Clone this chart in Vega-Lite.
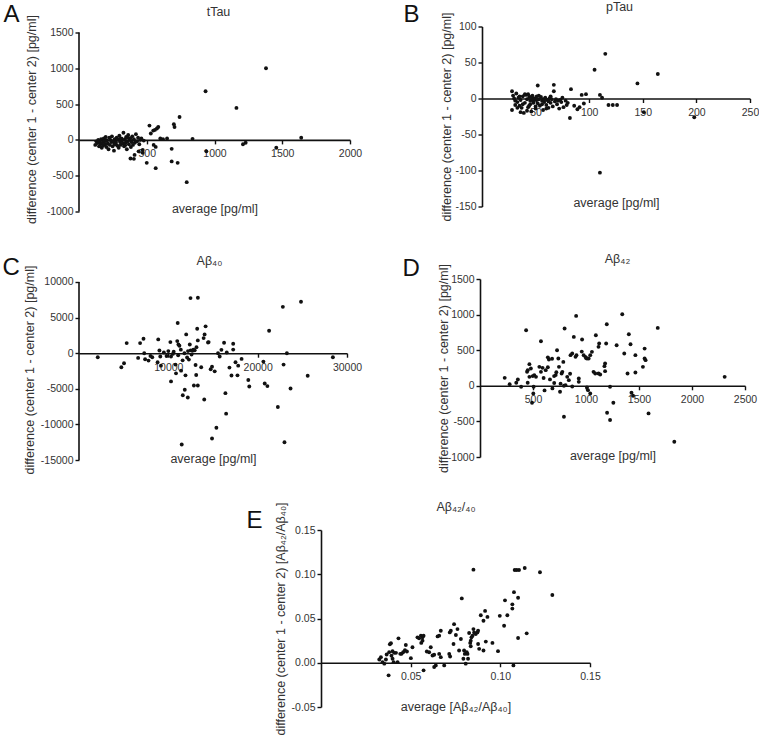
{
"$schema": "https://vega.github.io/schema/vega-lite/v6.json",
"background": "white",
"padding": {"left": 2, "top": -0.5, "right": 0, "bottom": 0},
"config": {
  "font": "Liberation Sans",
  "view": {"stroke": null},
  "axis": {"grid": false, "domainColor": "#111", "domainWidth": 1.6, "tickColor": "#111", "tickWidth": 1.4, "tickSize": 4, "labelFontSize": 10.5, "labelColor": "#333", "labelFlush": false, "labelOverlap": false, "titleFontSize": 12.5, "titleFontWeight": "normal", "titleColor": "#333"},
  "axisX": {"labelPadding": 5, "titleBaseline": "alphabetic"},
  "axisY": {"labelPadding": 2, "titleBaseline": "middle"},
  "circle": {"size": 15, "color": "#111", "opacity": 1},
  "rule": {"color": "#111", "strokeWidth": 1.6}
},
"datasets": {
"A": [
{"average":120,"difference":-70},{"average":128,"difference":-20},{"average":135,"difference":-45},{"average":142,"difference":0},{"average":148,"difference":-90},{"average":152,"difference":-30},{"average":158,"difference":-60},{"average":163,"difference":10},{"average":168,"difference":-110},{"average":172,"difference":-40},{"average":178,"difference":-80},{"average":183,"difference":20},{"average":188,"difference":-20},{"average":192,"difference":-60},{"average":197,"difference":40},{"average":202,"difference":-100},{"average":207,"difference":-10},{"average":212,"difference":-50},{"average":218,"difference":-130},{"average":223,"difference":30},{"average":228,"difference":-70},{"average":233,"difference":0},{"average":238,"difference":-30},{"average":243,"difference":50},{"average":248,"difference":-90},{"average":252,"difference":-20},{"average":258,"difference":-150},{"average":263,"difference":10},{"average":268,"difference":-60},{"average":273,"difference":-40},{"average":278,"difference":30},{"average":283,"difference":-80},{"average":288,"difference":0},{"average":293,"difference":-110},{"average":298,"difference":60},{"average":303,"difference":-30},{"average":308,"difference":-70},{"average":313,"difference":20},{"average":318,"difference":-10},{"average":323,"difference":-50},{"average":328,"difference":100},{"average":333,"difference":-90},{"average":338,"difference":10},{"average":343,"difference":-40},{"average":348,"difference":40},{"average":353,"difference":-130},{"average":358,"difference":-20},{"average":363,"difference":70},{"average":368,"difference":-60},{"average":373,"difference":0},{"average":378,"difference":20},{"average":383,"difference":-100},{"average":388,"difference":-30},{"average":393,"difference":50},{"average":398,"difference":-70},{"average":405,"difference":10},{"average":412,"difference":-40},{"average":420,"difference":80},{"average":428,"difference":-20},{"average":436,"difference":30},{"average":445,"difference":-60},{"average":452,"difference":0},{"average":460,"difference":20},{"average":470,"difference":-140},{"average":478,"difference":-10},{"average":380,"difference":-260},{"average":405,"difference":-265},{"average":410,"difference":-210},{"average":440,"difference":-160},{"average":470,"difference":-180},{"average":200,"difference":-5},{"average":260,"difference":-55},{"average":300,"difference":15},{"average":340,"difference":-75},{"average":360,"difference":35},
{"average":520,"difference":200},{"average":530,"difference":90},{"average":548,"difference":130},{"average":560,"difference":140},{"average":575,"difference":160},{"average":585,"difference":180},{"average":600,"difference":20},{"average":620,"difference":10},{"average":650,"difference":20},{"average":551,"difference":-70},{"average":566,"difference":-98},{"average":500,"difference":-320},{"average":566,"difference":-395},{"average":684,"difference":-125},{"average":684,"difference":-300},{"average":728,"difference":-320},{"average":795,"difference":-590},{"average":700,"difference":220},{"average":705,"difference":180},{"average":742,"difference":320},{"average":838,"difference":15},{"average":934,"difference":680},{"average":940,"difference":-160},{"average":1162,"difference":447},{"average":1210,"difference":-60},{"average":1230,"difference":-40},{"average":1380,"difference":1000},{"average":1456,"difference":-110},{"average":1640,"difference":30}
],
"B": [
{"average":28,"difference":10},{"average":28,"difference":-16},{"average":29,"difference":4},{"average":30,"difference":0},{"average":31,"difference":-3},{"average":32,"difference":7},{"average":33,"difference":-5},{"average":34,"difference":1},{"average":35,"difference":-10},{"average":36,"difference":-2},{"average":37,"difference":-13},{"average":38,"difference":3},{"average":39,"difference":-20},{"average":40,"difference":-6},{"average":41,"difference":5},{"average":42,"difference":-1},{"average":43,"difference":-12},{"average":44,"difference":2},{"average":45,"difference":-8},{"average":46,"difference":-18},{"average":47,"difference":4},{"average":48,"difference":-4},{"average":49,"difference":0},{"average":50,"difference":-14},{"average":51,"difference":3},{"average":52,"difference":-7},{"average":53,"difference":-1},{"average":54,"difference":-10},{"average":55,"difference":2},{"average":56,"difference":-3},{"average":57,"difference":-16},{"average":58,"difference":-5},{"average":59,"difference":1},{"average":60,"difference":-9},{"average":61,"difference":-2},{"average":62,"difference":-13},{"average":63,"difference":0},{"average":64,"difference":-6},{"average":65,"difference":-1},{"average":66,"difference":-11},{"average":67,"difference":10},{"average":68,"difference":-4},{"average":69,"difference":-1},{"average":70,"difference":-8},{"average":71,"difference":-3},{"average":72,"difference":-14},{"average":73,"difference":-2},{"average":74,"difference":-5},{"average":76,"difference":-12},{"average":78,"difference":-3},{"average":80,"difference":-6},{"average":83,"difference":13},{"average":82,"difference":-27},{"average":86,"difference":-10},{"average":89,"difference":-15},{"average":91,"difference":-12},{"average":93,"difference":5},{"average":95,"difference":-7},{"average":40,"difference":6},{"average":42,"difference":-17},{"average":45,"difference":-3},{"average":47,"difference":0},{"average":50,"difference":-11},{"average":53,"difference":4},{"average":56,"difference":-8},{"average":60,"difference":-14},{"average":64,"difference":3},{"average":67,"difference":19},{"average":52,"difference":18},{"average":36,"difference":-19},{"average":33,"difference":-13},{"average":38,"difference":-8},{"average":31,"difference":-9},{"average":35,"difference":3},{"average":43,"difference":6},{"average":48,"difference":-6},{"average":51,"difference":-2},{"average":57,"difference":-1},{"average":62,"difference":-4},{"average":44,"difference":-10},{"average":46,"difference":2},{"average":58,"difference":-2},{"average":75,"difference":1},{"average":79,"difference":-9},
{"average":97,"difference":6},{"average":105,"difference":40},{"average":110,"difference":5},{"average":110,"difference":-103},{"average":112,"difference":1},{"average":115,"difference":62},{"average":118,"difference":-9},{"average":122,"difference":-9},{"average":126,"difference":-9},{"average":145,"difference":21},{"average":151,"difference":-19},{"average":164,"difference":34},{"average":198,"difference":-26}
],
"C": [
{"average":2100,"difference":-570},{"average":4740,"difference":-1980},{"average":5040,"difference":-1420},{"average":5340,"difference":1420},{"average":6620,"difference":-660},{"average":6840,"difference":1420},{"average":7220,"difference":2030},{"average":7300,"difference":0},{"average":7400,"difference":-850},{"average":7780,"difference":-1040},{"average":8000,"difference":-380},{"average":8200,"difference":-570},{"average":8800,"difference":-1270},{"average":8870,"difference":1940},{"average":9000,"difference":380},{"average":9100,"difference":-470},{"average":9170,"difference":-1750},{"average":10230,"difference":1560},{"average":10300,"difference":-3960},{"average":10300,"difference":-470},{"average":10860,"difference":-2830},{"average":11050,"difference":4250},{"average":11130,"difference":1230},{"average":11240,"difference":1040},{"average":11430,"difference":-2450},{"average":11500,"difference":-12830},{"average":11620,"difference":-5900},{"average":11840,"difference":-5140},{"average":11920,"difference":-3110},{"average":12000,"difference":2640},{"average":12180,"difference":-6230},{"average":12480,"difference":7740},{"average":12400,"difference":1230},{"average":12500,"difference":400},{"average":12700,"difference":350},{"average":12950,"difference":420},{"average":12860,"difference":-4530},{"average":13050,"difference":-1650},{"average":13120,"difference":-3070},{"average":13150,"difference":850},{"average":13300,"difference":1800},{"average":13310,"difference":7790},{"average":13230,"difference":3440},{"average":13300,"difference":-4530},{"average":13680,"difference":-1980},{"average":13950,"difference":2120},{"average":14060,"difference":2640},{"average":14170,"difference":3770},{"average":14440,"difference":1510},{"average":14510,"difference":1560},{"average":14740,"difference":-2260},{"average":14890,"difference":-1890},{"average":14020,"difference":-6510},{"average":14890,"difference":-11980},{"average":15190,"difference":-2550},{"average":15380,"difference":-10470},{"average":15560,"difference":0},{"average":15750,"difference":-470},{"average":15940,"difference":470},{"average":16240,"difference":1470},{"average":16390,"difference":-5610},{"average":16470,"difference":-8490},{"average":16540,"difference":100},{"average":16840,"difference":-2020},{"average":17070,"difference":-3130},{"average":17260,"difference":1320},{"average":17260,"difference":510},{"average":17520,"difference":-1270},{"average":17820,"difference":-1750},{"average":17740,"difference":-3110},{"average":18200,"difference":-800},{"average":18950,"difference":-3770},{"average":19060,"difference":-4670},{"average":20640,"difference":-1180},{"average":20790,"difference":-4250},{"average":21090,"difference":-4620},{"average":21280,"difference":3160},{"average":22260,"difference":-7550},{"average":22820,"difference":6510},{"average":22900,"difference":-1600},{"average":23000,"difference":-12500},{"average":23270,"difference":0},{"average":23680,"difference":-4950},{"average":24850,"difference":7220},{"average":25600,"difference":-3160},{"average":28420,"difference":-570},
{"average":11800,"difference":0},{"average":12200,"difference":300},{"average":12600,"difference":-200},{"average":10600,"difference":200},{"average":11100,"difference":-300},{"average":11600,"difference":-1000},{"average":12300,"difference":-900},{"average":9800,"difference":-400},{"average":10800,"difference":-1600},{"average":10000,"difference":300},{"average":10500,"difference":-100},{"average":11400,"difference":500},{"average":12100,"difference":-600},{"average":9500,"difference":100},{"average":11000,"difference":1700},{"average":12800,"difference":500}
],
"D": [
{"average":233,"difference":112},{"average":280,"difference":23},{"average":342,"difference":42},{"average":357,"difference":89},{"average":388,"difference":-14},{"average":435,"difference":780},{"average":444,"difference":196},{"average":450,"difference":220},{"average":466,"difference":304},{"average":480,"difference":243},{"average":466,"difference":126},{"average":450,"difference":42},{"average":497,"difference":136},{"average":506,"difference":-14},{"average":503,"difference":-107},{"average":512,"difference":150},{"average":528,"difference":126},{"average":560,"difference":266},{"average":575,"difference":626},{"average":491,"difference":-238},{"average":575,"difference":196},{"average":590,"difference":252},{"average":609,"difference":-65},{"average":620,"difference":220},{"average":650,"difference":370},{"average":640,"difference":400},{"average":683,"difference":-37},{"average":699,"difference":136},{"average":714,"difference":150},{"average":727,"difference":500},{"average":745,"difference":266},{"average":739,"difference":383},{"average":755,"difference":-84},{"average":770,"difference":173},{"average":777,"difference":196},{"average":786,"difference":336},{"average":792,"difference":0},{"average":798,"difference":804},{"average":792,"difference":-435},{"average":807,"difference":9},{"average":823,"difference":126},{"average":838,"difference":79},{"average":854,"difference":430},{"average":870,"difference":453},{"average":885,"difference":687},{"average":901,"difference":407},{"average":910,"difference":430},{"average":907,"difference":982},{"average":932,"difference":56},{"average":932,"difference":103},{"average":963,"difference":650},{"average":978,"difference":430},{"average":994,"difference":407},{"average":1009,"difference":383},{"average":1009,"difference":-23},{"average":1019,"difference":-61},{"average":1025,"difference":383},{"average":1040,"difference":430},{"average":1040,"difference":-107},{"average":1056,"difference":477},{"average":1071,"difference":196},{"average":1087,"difference":173},{"average":1093,"difference":710},{"average":1118,"difference":547},{"average":1124,"difference":594},{"average":1118,"difference":173},{"average":1134,"difference":159},{"average":1180,"difference":313},{"average":1174,"difference":276},{"average":1180,"difference":206},{"average":1190,"difference":594},{"average":1196,"difference":864},{"average":1199,"difference":-379},{"average":1227,"difference":-14},{"average":1227,"difference":-481},{"average":1258,"difference":-238},{"average":1289,"difference":570},{"average":1342,"difference":1005},{"average":1361,"difference":453},{"average":1392,"difference":173},{"average":1404,"difference":724},{"average":1420,"difference":584},{"average":1429,"difference":-98},{"average":1444,"difference":-140},{"average":1466,"difference":430},{"average":1466,"difference":187},{"average":1537,"difference":266},{"average":1553,"difference":523},{"average":1553,"difference":383},{"average":1562,"difference":360},{"average":1590,"difference":-388},{"average":1677,"difference":813},{"average":1833,"difference":-785},{"average":2308,"difference":126},
{"average":600,"difference":110},{"average":640,"difference":260},{"average":660,"difference":90},{"average":680,"difference":380},{"average":700,"difference":40},{"average":720,"difference":190},{"average":760,"difference":30},{"average":850,"difference":170},{"average":870,"difference":-10},{"average":960,"difference":480},{"average":1000,"difference":390}
],
"E": [
{"average":0.0325,"difference":0.0037},{"average":0.0334,"difference":0.0063},{"average":0.0343,"difference":0.0007},{"average":0.0353,"difference":-0.001},{"average":0.0362,"difference":0.0037},{"average":0.0366,"difference":0.0093},{"average":0.0377,"difference":-0.0142},{"average":0.038,"difference":0.012},{"average":0.0384,"difference":0.0209},{"average":0.039,"difference":0.022},{"average":0.0393,"difference":0.008},{"average":0.0399,"difference":0.0045},{"average":0.0399,"difference":0.013},{"average":0.0405,"difference":0.0007},{"average":0.0408,"difference":0.0112},{"average":0.0418,"difference":0.0112},{"average":0.0427,"difference":0.0007},{"average":0.0432,"difference":0.0276},{"average":0.0442,"difference":0.0101},{"average":0.0449,"difference":0.0101},{"average":0.0458,"difference":0.0119},{"average":0.0468,"difference":0.0142},{"average":0.0473,"difference":0.0201},{"average":0.0479,"difference":0.0127},{"average":0.0501,"difference":0.0052},{"average":0.051,"difference":0.0175},{"average":0.0538,"difference":0.0287},{"average":0.0547,"difference":0.0276},{"average":0.0557,"difference":0.0306},{"average":0.0566,"difference":0.0287},{"average":0.0572,"difference":0.0306},{"average":0.0559,"difference":0.0224},{"average":0.0566,"difference":0.025},{"average":0.0572,"difference":-0.0086},{"average":0.059,"difference":0.0127},{"average":0.0603,"difference":0.0119},{"average":0.0612,"difference":0.0175},{"average":0.0622,"difference":0.0082},{"average":0.0631,"difference":0.009},{"average":0.0631,"difference":-0.0048},{"average":0.064,"difference":-0.003},{"average":0.065,"difference":0.0298},{"average":0.0659,"difference":0.0306},{"average":0.0668,"difference":0.0362},{"average":0.0659,"difference":0.01},{"average":0.0668,"difference":0.0063},{"average":0.0687,"difference":-0.003},{"average":0.0715,"difference":0.01},{"average":0.072,"difference":0.0071},{"average":0.0718,"difference":0.0343},{"average":0.0724,"difference":0.0362},{"average":0.0739,"difference":0.0212},{"average":0.0742,"difference":0.0436},{"average":0.0752,"difference":0.0313},{"average":0.0761,"difference":0.038},{"average":0.077,"difference":0.0138},{"average":0.078,"difference":0.0269},{"average":0.0785,"difference":0.0727},{"average":0.0794,"difference":0.0045},{"average":0.0798,"difference":0.0138},{"average":0.0802,"difference":0.01},{"average":0.0807,"difference":-0.001},{"average":0.0813,"difference":0.0119},{"average":0.0817,"difference":0.01},{"average":0.082,"difference":0.0045},{"average":0.0826,"difference":0.0336},{"average":0.0832,"difference":0.0224},{"average":0.0835,"difference":0.0187},{"average":0.0835,"difference":0.025},{"average":0.0839,"difference":0.0287},{"average":0.0845,"difference":0.0306},{"average":0.085,"difference":0.038},{"average":0.085,"difference":0.1052},{"average":0.0854,"difference":0.0343},{"average":0.0863,"difference":0.0325},{"average":0.0872,"difference":0.0343},{"average":0.0876,"difference":0.0362},{"average":0.0876,"difference":0.0212},{"average":0.0882,"difference":0.0157},{"average":0.0891,"difference":0.0537},{"average":0.0906,"difference":0.0474},{"average":0.0906,"difference":0.0138},{"average":0.0919,"difference":0.0239},{"average":0.0915,"difference":0.0586},{"average":0.0928,"difference":0.0518},{"average":0.0956,"difference":0.0224},{"average":0.0987,"difference":0.0131},{"average":0.0997,"difference":0.053},{"average":0.1021,"difference":0.0418},{"average":0.1026,"difference":0.0705},{"average":0.1039,"difference":0.0537},{"average":0.1067,"difference":0.066},{"average":0.1067,"difference":0.0612},{"average":0.1073,"difference":-0.003},{"average":0.1076,"difference":0.0798},{"average":0.108,"difference":0.1048},{"average":0.1091,"difference":0.1048},{"average":0.1104,"difference":0.1048},{"average":0.1099,"difference":0.0735},{"average":0.1099,"difference":0.028},{"average":0.1136,"difference":0.107},{"average":0.1147,"difference":0.0332},{"average":0.1221,"difference":0.1022},{"average":0.129,"difference":0.0765}
],
"axisline": [{"part": "y axis line"}]
},
"align": "none",
"center": false,
"spacing": 25.5,
"vconcat": [
{"align": "none", "center": false, "spacing": 28.5, "vconcat": [
{"align": "none", "center": false, "spacing": 41, "hconcat": [
 {"width": 271, "height": 185,
  "resolve": {"axis": {"x": "independent", "y": "independent"}},
  "layer": [
   {"data": {"name": "A"}, "mark": "circle",
    "encoding": {
     "x": {"field": "average", "type": "quantitative", "scale": {"domain": [0, 2000], "nice": false, "zero": false},
           "axis": {"values": [500, 1000, 1500, 2000], "offset": -71.6, "title": "average [pg/ml]", "titleY": 73, "labelExpr": "datum.value + ''"}},
     "y": {"field": "difference", "type": "quantitative", "scale": {"domain": [-1000, 1583.8], "nice": false, "zero": false},
           "axis": {"values": [-1000, -500, 0, 500, 1000, 1500], "domain": false, "title": "difference (center 1 - center 2) [pg/ml]", "titleX": -47.5, "labelExpr": "datum.value + ''"}}
    }},
   {"data": {"name": "axisline"}, "mark": "rule",
    "encoding": {
     "x": {"datum": 0, "type": "quantitative", "scale": {"domain": [0, 2000], "nice": false, "zero": false}, "axis": null},
     "y": {"datum": -1000, "type": "quantitative", "scale": {"domain": [-1000, 1583.8], "nice": false, "zero": false}, "axis": null},
     "y2": {"datum": 1500}
    }},
   {"data": {"values": []}, "mark": "circle",
    "encoding": {
     "x": {"field": "average", "type": "quantitative", "scale": {"domain": [0, 2000], "nice": false, "zero": false},
           "axis": {"orient": "top", "title": "tTau", "domain": false, "ticks": false, "labels": false, "titleX": 139, "titleY": -11.3, "titleAlign": "center", "titleBaseline": "alphabetic", "titleAngle": 0}},
     "y": {"field": "difference", "type": "quantitative", "scale": {"domain": [-1000, 1583.8], "nice": false, "zero": false},
           "axis": {"orient": "right", "title": "A", "domain": false, "ticks": false, "labels": false, "titleX": -347, "titleY": -5, "titleAlign": "left", "titleBaseline": "alphabetic", "titleAngle": 0, "titleFontSize": 24, "titleColor": "#111"}}
    }}
  ]},
 {"width": 268, "height": 180,
  "resolve": {"axis": {"x": "independent", "y": "independent"}},
  "layer": [
   {"data": {"name": "B"}, "mark": "circle",
    "encoding": {
     "x": {"field": "average", "type": "quantitative", "scale": {"domain": [0, 250], "nice": false, "zero": false},
           "axis": {"values": [50, 100, 150, 200, 250], "offset": -108, "title": "average [pg/ml]", "titleY": 108, "labelExpr": "datum.value + ''"}},
     "y": {"field": "difference", "type": "quantitative", "scale": {"domain": [-150, 100], "nice": false, "zero": false},
           "axis": {"values": [-150, -100, -50, 0, 50, 100], "title": "difference (center 1 - center 2) [pg/ml]", "titleX": -36, "labelExpr": "datum.value + ''"}}
    }},
   {"data": {"values": []}, "mark": "circle",
    "encoding": {
     "x": {"field": "average", "type": "quantitative", "scale": {"domain": [0, 250], "nice": false, "zero": false},
           "axis": {"orient": "top", "title": "pTau", "domain": false, "ticks": false, "labels": false, "titleX": 137, "titleY": -16.5, "titleAlign": "center", "titleBaseline": "alphabetic", "titleAngle": 0}},
     "y": {"field": "difference", "type": "quantitative", "scale": {"domain": [-150, 100], "nice": false, "zero": false},
           "axis": {"orient": "right", "title": "B", "domain": false, "ticks": false, "labels": false, "titleX": -347, "titleY": -5, "titleAlign": "left", "titleBaseline": "alphabetic", "titleAngle": 0, "titleFontSize": 24, "titleColor": "#111"}}
    }}
  ]}
]},
{"align": "none", "center": false, "spacing": 40, "hconcat": [
 {"width": 268, "height": 181,
  "resolve": {"axis": {"x": "independent", "y": "independent"}},
  "layer": [
   {"data": {"name": "C"}, "mark": "circle",
    "encoding": {
     "x": {"field": "average", "type": "quantitative", "scale": {"domain": [0, 30000], "nice": false, "zero": false},
           "axis": {"values": [10000, 20000, 30000], "offset": -106.8, "title": "average [pg/ml]", "titleY": 109, "labelExpr": "datum.value + ''"}},
     "y": {"field": "difference", "type": "quantitative", "scale": {"domain": [-15000, 10421.3], "nice": false, "zero": false},
           "axis": {"values": [-15000, -10000, -5000, 0, 5000, 10000], "domain": false, "title": "difference (center 1 - center 2) [pg/ml]", "titleX": -50, "labelExpr": "datum.value + ''"}}
    }},
   {"data": {"name": "axisline"}, "mark": "rule",
    "encoding": {
     "x": {"datum": 0, "type": "quantitative", "scale": {"domain": [0, 30000], "nice": false, "zero": false}, "axis": null},
     "y": {"datum": -15000, "type": "quantitative", "scale": {"domain": [-15000, 10421.3], "nice": false, "zero": false}, "axis": null},
     "y2": {"datum": 10000}
    }},
   {"data": {"values": []}, "mark": "circle",
    "encoding": {
     "x": {"field": "average", "type": "quantitative", "scale": {"domain": [0, 30000], "nice": false, "zero": false},
           "axis": {"orient": "top", "title": "Aβ₄₀", "domain": false, "ticks": false, "labels": false, "titleX": 130, "titleY": -15, "titleAlign": "center", "titleBaseline": "alphabetic", "titleAngle": 0}},
     "y": {"field": "difference", "type": "quantitative", "scale": {"domain": [-15000, 10421.3], "nice": false, "zero": false},
           "axis": {"orient": "right", "title": "C", "domain": false, "ticks": false, "labels": false, "titleX": -345, "titleY": -5, "titleAlign": "left", "titleBaseline": "alphabetic", "titleAngle": 0, "titleFontSize": 24, "titleColor": "#111"}}
    }}
  ]},
 {"width": 265, "height": 178,
  "resolve": {"axis": {"x": "independent", "y": "independent"}},
  "layer": [
   {"data": {"name": "D"}, "mark": "circle",
    "encoding": {
     "x": {"field": "average", "type": "quantitative", "scale": {"domain": [0, 2500], "nice": false, "zero": false},
           "axis": {"values": [500, 1000, 1500, 2000, 2500], "offset": -71.2, "title": "average [pg/ml]", "titleY": 74, "labelExpr": "datum.value + ''"}},
     "y": {"field": "difference", "type": "quantitative", "scale": {"domain": [-1000, 1500], "nice": false, "zero": false},
           "axis": {"values": [-1000, -500, 0, 500, 1000, 1500], "title": "difference (center 1 - center 2) [pg/ml]", "titleX": -36.5, "labelExpr": "datum.value + ''"}}
    }},
   {"data": {"values": []}, "mark": "circle",
    "encoding": {
     "x": {"field": "average", "type": "quantitative", "scale": {"domain": [0, 2500], "nice": false, "zero": false},
           "axis": {"orient": "top", "title": "Aβ₄₂", "domain": false, "ticks": false, "labels": false, "titleX": 137, "titleY": -17, "titleAlign": "center", "titleBaseline": "alphabetic", "titleAngle": 0}},
     "y": {"field": "difference", "type": "quantitative", "scale": {"domain": [-1000, 1500], "nice": false, "zero": false},
           "axis": {"orient": "right", "title": "D", "domain": false, "ticks": false, "labels": false, "titleX": -343, "titleY": -4, "titleAlign": "left", "titleBaseline": "alphabetic", "titleAngle": 0, "titleFontSize": 24, "titleColor": "#111"}}
    }}
  ]}
]}
]},
{"align": "none", "center": false, "spacing": 1, "hconcat": [
 {"width": 166, "height": 10, "data": {"values": []}, "mark": "point", "encoding": {"x": {"field": "average", "type": "quantitative", "axis": null}}},
 {"width": 269, "height": 177,
  "resolve": {"axis": {"x": "independent", "y": "independent"}},
  "layer": [
   {"data": {"name": "E"}, "mark": "circle",
    "encoding": {
     "x": {"field": "average", "type": "quantitative", "scale": {"domain": [0, 0.15], "nice": false, "zero": false},
           "axis": {"values": [0.05, 0.1, 0.15], "offset": -44.25, "title": "average [Aβ₄₂/Aβ₄₀]", "titleY": 48, "labelExpr": "replace(format(datum.value, '.2f'), '\u2212', '-')"}},
     "y": {"field": "difference", "type": "quantitative", "scale": {"domain": [-0.05, 0.15], "nice": false, "zero": false},
           "axis": {"values": [-0.05, 0, 0.05, 0.1, 0.15], "title": "difference (center 1 - center 2) [Aβ₄₂/Aβ₄₀]", "titleX": -41, "labelExpr": "replace(format(datum.value, '.2f'), '\u2212', '-')"}}
    }},
   {"data": {"values": []}, "mark": "circle",
    "encoding": {
     "x": {"field": "average", "type": "quantitative", "scale": {"domain": [0, 0.15], "nice": false, "zero": false},
           "axis": {"orient": "top", "title": "Aβ₄₂/₄₀", "domain": false, "ticks": false, "labels": false, "titleX": 134.5, "titleY": -20, "titleAlign": "center", "titleBaseline": "alphabetic", "titleAngle": 0}},
     "y": {"field": "difference", "type": "quantitative", "scale": {"domain": [-0.05, 0.15], "nice": false, "zero": false},
           "axis": {"orient": "right", "title": "E", "domain": false, "ticks": false, "labels": false, "titleX": -344, "titleY": -3, "titleAlign": "left", "titleBaseline": "alphabetic", "titleAngle": 0, "titleFontSize": 24, "titleColor": "#111"}}
    }}
  ]}
]}
]
}
